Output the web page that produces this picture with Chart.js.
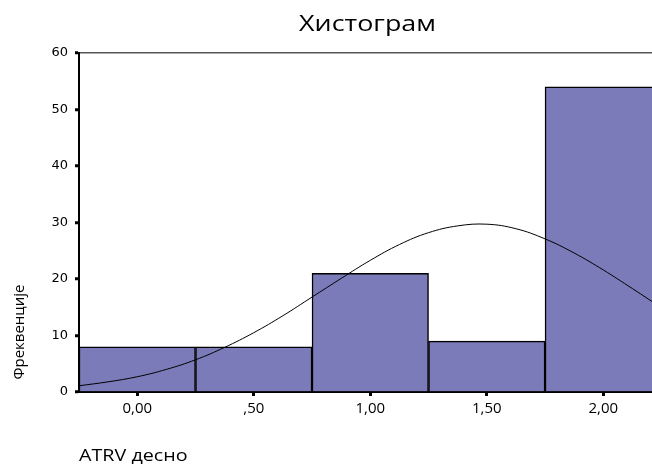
<!DOCTYPE html>
<html>
<head>
<meta charset="utf-8">
<script src="https://cdn.jsdelivr.net/npm/chart.js@4/dist/chart.umd.min.js"></script>
<style>
  html, body { margin: 0; padding: 0; background: #fff; overflow: hidden; }
  #wrap { width: 652px; height: 464px; }
</style>
</head>
<body>
<div id="wrap"><canvas id="hist"></canvas></div>
<script>
// histogram bins (bin centres) and counts
const binCentres = [0, 0.5, 1, 1.5, 2];
const counts = [8, 8, 21, 9, 54];

// x tick values and their labels
const xTicks = [0, 0.5, 1, 1.5, 2];
const xTickLabels = ['0,00', ',50', '1,00', '1,50', '2,00'];

// normal curve
const curveX = [-0.25, -0.125, 0, 0.125, 0.25, 0.375, 0.5, 0.625, 0.75, 0.875, 1, 1.125, 1.25, 1.375, 1.5, 1.625, 1.75, 1.875, 2, 2.125, 2.25];
const curveY = [1.1, 1.8, 2.7, 4.0, 5.7, 7.9, 10.5, 13.5, 16.8, 20.1, 23.3, 26.1, 28.2, 29.4, 29.7, 28.9, 27.1, 24.6, 21.6, 18.3, 14.9];

const titleText = 'Хистограм';
const yTitle = 'Фреквенције';
const xTitle = 'ATRV десно';

// the source image is a bit stretched sideways, so texts get a small x scale
const drawText = (ctx, text, x, y, font, sx, align) => {
  ctx.save();
  ctx.translate(x, y);
  ctx.scale(sx, 1);
  ctx.font = font;
  ctx.textAlign = align;
  ctx.fillText(text, 0, 0);
  ctx.restore();
};

// draws the title and axis titles at fixed spots
const textPlugin = {
  id: 'texts',
  afterDraw(chart) {
    const ctx = chart.ctx;
    const area = chart.chartArea;
    ctx.save();
    ctx.fillStyle = '#000';
    ctx.textBaseline = 'alphabetic';
    drawText(ctx, titleText, (area.left + area.right) / 2 + 2, 31, '22px "Open Sans"', 1.22, 'center');
    drawText(ctx, xTitle, 79, 461, '17px "Open Sans"', 1.16, 'left');

    ctx.translate(20, 332);
    ctx.rotate(-Math.PI / 2);
    ctx.font = '15px "Open Sans"';
    ctx.textAlign = 'center';
    ctx.textBaseline = 'middle';
    ctx.fillText(yTitle, 0, 0);
    ctx.restore();
  },
};

const chartdata = {
  datasets: [
    {
      type: 'line',
      data: curveX.map((x, i) => ({ x: x, y: curveY[i] })),
      borderColor: '#000',
      borderWidth: 1,
      pointRadius: 0,
      tension: 0.4,
      fill: false,
      order: 0,
    },
    {
      type: 'bar',
      data: binCentres.map((x, i) => ({ x: x, y: counts[i] })),
      backgroundColor: '#7a7bb8',
      borderColor: '#000',
      borderWidth: 1.5,
      barPercentage: 1,
      categoryPercentage: 1,
      order: 1,
    },
  ],
};

const chartconfig = {
  type: 'bar',
  data: chartdata,
  plugins: [textPlugin],
  options: {
    responsive: false,
    animation: false,
    layout: { padding: { top: 53, left: 0, right: 0, bottom: 0 } },
    scales: {
      x: {
        type: 'linear',
        offset: false,
        min: -0.25,
        max: 2.209,
        afterBuildTicks: (scale) => {
          scale.ticks = xTicks.map((v) => ({ value: v }));
        },
        afterFit: (scale) => { scale.height = 72; },
        border: { display: true, color: '#000', width: 2 },
        grid: {
          offset: false,
          drawOnChartArea: false,
          drawTicks: true,
          tickLength: 4,
          tickWidth: 3,
          tickColor: '#000',
        },
        ticks: {
          autoSkip: false,
          maxRotation: 0,
          padding: 4,
          color: '#000',
          font: { family: '"Open Sans"', size: 15 },
          callback: (v) => xTickLabels[xTicks.indexOf(v)],
        },
      },
      y: {
        min: 0,
        max: 60,
        afterFit: (scale) => { scale.width = 79; },
        border: { display: true, color: '#000', width: 2 },
        grid: {
          color: (c) => (c.tick && c.tick.value === 60 ? '#555' : 'rgba(0,0,0,0)'),
          lineWidth: 1.5,
          drawTicks: true,
          tickLength: 4,
          tickWidth: 3,
          tickColor: '#000',
        },
        ticks: {
          stepSize: 10,
          padding: 7,
          color: '#000',
          font: { family: '"DejaVu Sans"', size: 13 },
        },
      },
    },
    plugins: {
      legend: { display: false },
      tooltip: { enabled: false },
      title: { display: false },
    },
  },
};

const canvas = document.getElementById('hist');
canvas.width = 652;
canvas.height = 464;
const chart = new Chart(canvas, chartconfig);
</script>
</body>
</html>
